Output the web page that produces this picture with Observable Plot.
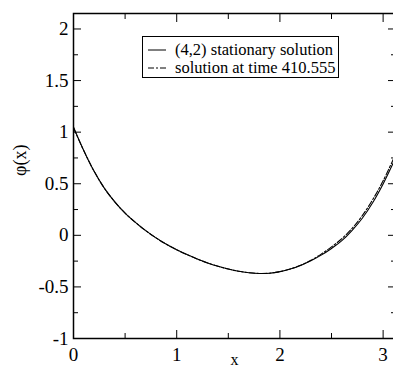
<!DOCTYPE html>
<html>
<head>
<meta charset="utf-8">
<script src="https://cdn.jsdelivr.net/npm/d3@7"></script>
<script src="https://cdn.jsdelivr.net/npm/@observablehq/plot@0.6"></script>
<style>
  html, body { margin: 0; padding: 0; background: white; }
  #wrap { position: relative; width: 393px; height: 369px; overflow: hidden; }
  #legend { position: absolute; left: 142px; top: 36px; width: 195px; height: 40px;
    border: 1px solid black; background: white;
    font-family: "Liberation Serif", "Times New Roman", Times, "DejaVu Serif", serif; font-size: 16.5px; }
  #legend .row { position: absolute; left: 0; height: 19px; line-height: 19px; white-space: nowrap; }
  #legend svg { position: absolute; left: 5px; top: 0; }
  #legend span { position: absolute; left: 32px; top: 0; }
</style>
</head>
<body>
<div id="wrap">
  <div id="chart"></div>
  <div id="legend">
    <div class="row" style="top:3px"><svg width="20" height="19"><line x1="0" x2="18" y1="10" y2="10" stroke="black" stroke-width="1"/></svg><span>(4,2) stationary solution</span></div>
    <div class="row" style="top:21px"><svg width="20" height="19"><line x1="0" x2="18" y1="10" y2="10" stroke="black" stroke-width="1" stroke-dasharray="6,2,2,2"/></svg><span>solution at time 410.555</span></div>
  </div>
</div>
<script>
const xs =         [0.0, 0.1, 0.2, 0.3, 0.4, 0.5, 0.6, 0.7, 0.8, 0.9, 1.0, 1.1, 1.2, 1.3, 1.4, 1.5, 1.6, 1.7, 1.8, 1.9, 2.0, 2.1, 2.2, 2.3, 2.4, 2.5, 2.6, 2.7, 2.8, 2.9, 3.0, 3.1];
const stationary = [1.05, 0.82, 0.62, 0.455, 0.325, 0.215, 0.125, 0.045, -0.025, -0.087, -0.14, -0.187, -0.23, -0.268, -0.3, -0.327, -0.348, -0.362, -0.37, -0.367, -0.352, -0.327, -0.292, -0.247, -0.192, -0.127, -0.052, 0.048, 0.168, 0.318, 0.498, 0.705];
const evolved =    [1.04, 0.82, 0.62, 0.455, 0.325, 0.215, 0.125, 0.045, -0.025, -0.087, -0.14, -0.187, -0.23, -0.268, -0.3, -0.327, -0.348, -0.362, -0.37, -0.367, -0.352, -0.326, -0.29, -0.242, -0.182, -0.112, -0.032, 0.068, 0.193, 0.348, 0.528, 0.74];

const xTicks = [0, 1, 2, 3];
const xMinor = [0.5, 1.5, 2.5];
const yTicks = [-1, -0.5, 0, 0.5, 1, 1.5, 2];
const yMinor = [-0.75, -0.25, 0.25, 0.75, 1.25, 1.75];

const rowsS = xs.map((x, i) => ({x, y: stationary[i]}));
const rowsE = xs.map((x, i) => ({x, y: evolved[i]}));
const fmt = d => String(d);
const blank = () => "";
const serif = "'Liberation Serif', 'Times New Roman', Times, 'DejaVu Serif', serif";

const chart = Plot.plot({
  width: 393,
  height: 369,
  marginLeft: 73,
  marginTop: 13,
  marginBottom: 31,
  marginRight: -2,
  x: {domain: [0, 3.12]},
  y: {domain: [-1, 2.15]},
  style: {fontFamily: serif, fontSize: "19px", color: "black", background: "white", overflow: "hidden"},
  marks: [
    Plot.axisX(xTicks, {anchor: "bottom", tickSize: -8, tickPadding: 17, tickFormat: fmt, label: null}),
    Plot.axisX(xMinor, {anchor: "bottom", tickSize: -5, tickFormat: blank, label: null}),
    Plot.axisX(xTicks, {anchor: "top", tickSize: -8, tickFormat: blank, label: null}),
    Plot.axisX(xMinor, {anchor: "top", tickSize: -5, tickFormat: blank, label: null}),
    Plot.axisY(yTicks, {anchor: "left", tickSize: -8, tickPadding: 13, tickFormat: fmt, label: null}),
    Plot.axisY(yMinor, {anchor: "left", tickSize: -5, tickFormat: blank, label: null}),
    Plot.axisY(yTicks, {anchor: "right", tickSize: -8, tickFormat: blank, label: null}),
    Plot.axisY(yMinor, {anchor: "right", tickSize: -5, tickFormat: blank, label: null}),
    Plot.lineY(rowsE, {x: "x", y: "y", stroke: "black", strokeWidth: 1.1, strokeDasharray: "6,2,2,2", curve: "catmull-rom"}),
    Plot.lineY(rowsS, {x: "x", y: "y", stroke: "black", strokeWidth: 1.1, curve: "catmull-rom"}),
    Plot.frame({stroke: "black", strokeWidth: 1.5}),
    Plot.text(["x"], {frameAnchor: "bottom", dy: 21, fontSize: 16, lineAnchor: "middle"}),
    Plot.text(["φ(x)"], {frameAnchor: "left", dx: -53, rotate: -90, fontSize: 18})
  ]
});
document.getElementById("chart").appendChild(chart);
</script>
</body>
</html>
